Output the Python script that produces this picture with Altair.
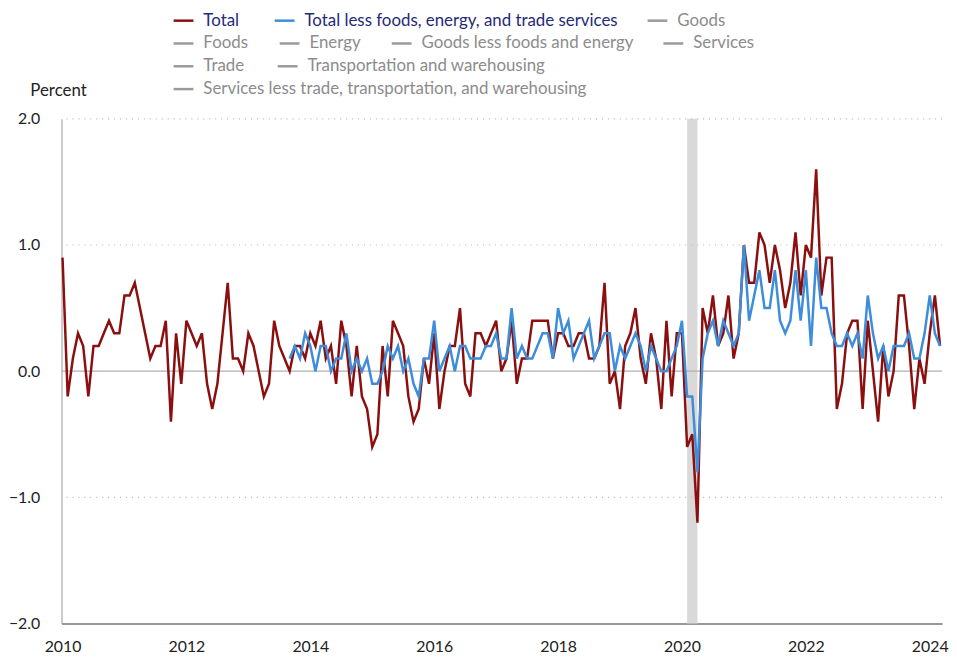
import altair as alt
import pandas as pd

# Monthly percent change, Jan 2010 - Mar 2024
total = [0.9, -0.2, 0.1, 0.3, 0.2, -0.2, 0.2, 0.2, 0.3, 0.4, 0.3, 0.3,
         0.6, 0.6, 0.7, 0.5, 0.3, 0.1, 0.2, 0.2, 0.4, -0.4, 0.3, -0.1,
         0.4, 0.3, 0.2, 0.3, -0.1, -0.3, -0.1, 0.3, 0.7, 0.1, 0.1, 0.0,
         0.3, 0.2, 0.0, -0.2, -0.1, 0.4, 0.2, 0.1, 0.0, 0.2, 0.2, 0.1,
         0.3, 0.2, 0.4, 0.1, 0.2, -0.1, 0.4, 0.2, -0.2, 0.2, -0.2, -0.3,
         -0.6, -0.5, 0.2, -0.2, 0.4, 0.3, 0.2, -0.2, -0.4, -0.3, 0.1, -0.1,
         0.3, -0.3, 0.0, 0.2, 0.2, 0.5, -0.1, -0.2, 0.3, 0.3, 0.2, 0.3,
         0.4, 0.0, 0.1, 0.4, -0.1, 0.1, 0.1, 0.4, 0.4, 0.4, 0.4, 0.1,
         0.3, 0.3, 0.2, 0.2, 0.3, 0.3, 0.1, 0.1, 0.2, 0.7, -0.1, 0.0,
         -0.3, 0.2, 0.3, 0.5, 0.1, -0.1, 0.3, 0.1, -0.3, 0.4, -0.2, 0.3,
         0.3, -0.6, -0.5, -1.2, 0.5, 0.3, 0.6, 0.2, 0.3, 0.6, 0.1, 0.3,
         1.0, 0.7, 0.7, 1.1, 1.0, 0.7, 1.0, 0.8, 0.5, 0.7, 1.1, 0.6,
         1.0, 0.9, 1.6, 0.6, 0.9, 0.9, -0.3, -0.1, 0.3, 0.4, 0.4, -0.3,
         0.4, 0.0, -0.4, 0.2, -0.2, 0.0, 0.6, 0.6, 0.2, -0.3, 0.1, -0.1,
         0.3, 0.6, 0.2]

# Total less foods, energy, and trade services, Sep 2013 - Mar 2024
core_start_index = 44
core = [0.1, 0.2, 0.1, 0.3,
        0.2, 0.0, 0.2, 0.2, 0.0, 0.1, 0.1, 0.3, 0.0, 0.1, 0.0, 0.1,
        -0.1, -0.1, 0.0, 0.2, 0.1, 0.2, 0.0, 0.1, -0.1, -0.2, 0.1, 0.1,
        0.4, 0.0, 0.1, 0.2, 0.0, 0.2, 0.2, 0.1, 0.1, 0.1, 0.2, 0.2,
        0.3, 0.1, 0.1, 0.5, 0.1, 0.2, 0.1, 0.1, 0.2, 0.3, 0.3, 0.1,
        0.5, 0.3, 0.4, 0.1, 0.2, 0.3, 0.4, 0.1, 0.2, 0.3, 0.3, 0.0,
        0.2, 0.1, 0.2, 0.3, 0.2, 0.0, 0.2, 0.1, 0.0, 0.0, 0.1, 0.2,
        0.4, -0.2, -0.2, -0.8, 0.1, 0.3, 0.4, 0.2, 0.4, 0.3, 0.2, 0.3,
        1.0, 0.4, 0.6, 0.8, 0.5, 0.5, 0.8, 0.4, 0.3, 0.4, 0.8, 0.4,
        0.8, 0.2, 0.9, 0.5, 0.5, 0.3, 0.2, 0.2, 0.3, 0.2, 0.3, 0.1,
        0.6, 0.3, 0.1, 0.2, 0.0, 0.2, 0.2, 0.2, 0.3, 0.1, 0.1, 0.3,
        0.6, 0.3, 0.2]

recession = {"start": "2020-02", "end": "2020-04"}

legend_rows = [
    ["Total", "Total less foods, energy, and trade services", "Goods"],
    ["Foods", "Energy", "Goods less foods and energy", "Services"],
    ["Trade", "Transportation and warehousing"],
    ["Services less trade, transportation, and warehousing"],
]
legend_text_x = [[205, 307, 683], [205, 312, 425, 699], [205, 310], [205]]
legend_colors = {"Total": "#8b0f0f",
                 "Total less foods, energy, and trade services": "#3d8ddb"}

RED = "#8b0f0f"
BLUE = "#3d8ddb"
FONT = "Lato"


def dec_year(ym):
    y, m = ym.split("-")
    return int(y) + (int(m) - 1) / 12


t_all = [2010 + i / 12 for i in range(len(total))]
df_total = pd.DataFrame({"t": t_all, "v": total})
df_core = pd.DataFrame({"t": t_all[core_start_index:core_start_index + len(core)],
                        "v": core})
df_rec = pd.DataFrame({"s": [dec_year(recession["start"])],
                       "e": [dec_year(recession["end"])]})
df_dot = pd.DataFrame({"g": [2.0, 1.0, -1.0]})
df_zero = pd.DataFrame({"g": [0.0]})

xscale = alt.Scale(domain=[2009.984, 2024.199], nice=False, zero=False)
yscale = alt.Scale(domain=[-2, 2], nice=False, zero=False)

xaxis = alt.Axis(values=list(range(2010, 2025, 2)), format="d", title=None,
                 grid=False, ticks=False, labelPadding=15, labelFont=FONT,
                 labelFontSize=16, labelColor="#222", domainColor="#999",
                 domainWidth=2, labelFlush=False)
yaxis = alt.Axis(values=[-2, -1, 0, 1, 2], format=".1f", grid=False,
                 ticks=False, labelPadding=22, labelFont=FONT,
                 labelFontSize=16, labelColor="#222", domainColor="#999",
                 domainWidth=1, title="Percent", titleAngle=0,
                 titleAlign="left", titleBaseline="middle", titleX=-32,
                 titleY=-29, titleFont=FONT, titleFontSize=17,
                 titleFontWeight="normal", titleColor="#222")

rec = alt.Chart(df_rec).mark_rect(color="#d9d9d9").encode(
    x=alt.X("s:Q", scale=xscale, axis=xaxis), x2="e:Q")
dots = alt.Chart(df_dot).mark_rule(color="#b5b5b5", strokeDash=[1, 5],
                                   strokeWidth=1.2).encode(
    y=alt.Y("g:Q", scale=yscale, axis=yaxis))
zero = alt.Chart(df_zero).mark_rule(color="#b0b0b0", strokeWidth=1.3).encode(
    y=alt.Y("g:Q", scale=yscale))
red = alt.Chart(df_total).mark_line(color=RED, strokeWidth=2.5).encode(
    x=alt.X("t:Q", scale=xscale, axis=xaxis),
    y=alt.Y("v:Q", scale=yscale, axis=yaxis))
blue = alt.Chart(df_core).mark_line(color=BLUE, strokeWidth=2.5).encode(
    x=alt.X("t:Q", scale=xscale), y=alt.Y("v:Q", scale=yscale))

layers = [rec, dots, zero, red, blue]

PLOT_LEFT, PLOT_TOP = 62, 117
row_y = [18, 41, 64, 87]
for r, row in enumerate(legend_rows):
    for c, label in enumerate(row):
        tx = legend_text_x[r][c] - PLOT_LEFT
        ly = row_y[r] - PLOT_TOP
        col = legend_colors.get(label, "#9a9a9a")
        tcol = "#1f2a7a" if label in legend_colors else "#8c8c8c"
        d = pd.DataFrame({"label": [label]})
        layers.append(alt.Chart(d).mark_rule(color=col, strokeWidth=2.5).encode(
            x=alt.value(tx - 30), x2=alt.value(tx - 10), y=alt.value(ly)))
        layers.append(alt.Chart(d).mark_text(
            align="left", baseline="middle", font=FONT, fontSize=17,
            color=tcol).encode(
            text="label:N", x=alt.value(tx), y=alt.value(ly)))

chart = alt.layer(*layers).properties(
    width=888, height=509,
    autosize=alt.AutoSizeParams(type="none"),
    padding={"left": 54, "top": 109, "right": 7, "bottom": 34},
).configure_view(stroke=None)

chart.save("out.html", embed_options={"renderer": "svg", "actions": False})
